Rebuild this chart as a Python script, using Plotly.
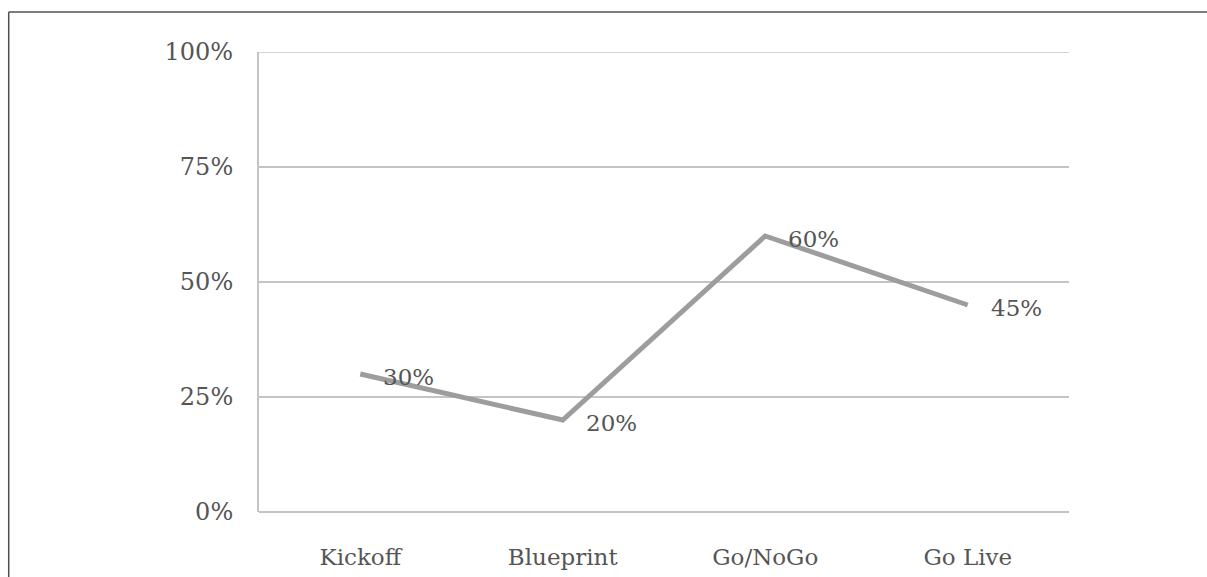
import plotly.graph_objects as go

# Project phases and completion share at each milestone
phases = ["Kickoff", "Blueprint", "Go/NoGo", "Go Live"]
completion = [30, 20, 60, 45]
y_ticks = [0, 25, 50, 75, 100]
y_tick_labels = ["0%", "25%", "50%", "75%", "100%"]

FONT = "DejaVu Serif"
TEXT_COLOR = "#555555"
GRID_COLOR = "#c4c4c4"
LINE_COLOR = "#9d9d9f"

fig = go.Figure()

fig.add_trace(go.Scatter(
    x=phases,
    y=completion,
    mode="lines",
    line=dict(color=LINE_COLOR, width=5),
    hoverinfo="skip",
    showlegend=False,
))

# Value labels sit just to the right of each point
for phase, value in zip(phases, completion):
    fig.add_annotation(
        x=phase, y=value, text=f"{value}%",
        showarrow=False, xanchor="left", yanchor="middle",
        xshift=21, yshift=-3,
        font=dict(family=FONT, size=23, color=TEXT_COLOR),
    )

# Top gridline at 100%
fig.add_shape(type="line", xref="paper", yref="y",
              x0=0, x1=1, y0=100, y1=100,
              line=dict(color=GRID_COLOR, width=1.5), layer="below")

# Outer frame (top and left edges)
fig.add_shape(type="line", xref="paper", yref="paper",
              x0=-0.309, x1=1.2, y0=1.087, y1=1.087,
              line=dict(color="#505050", width=1.5))
fig.add_shape(type="line", xref="paper", yref="paper",
              x0=-0.309, x1=-0.309, y0=1.087, y1=-0.2,
              line=dict(color="#505050", width=1.5))

fig.update_layout(
    width=1207, height=577,
    margin=dict(l=259, r=138, t=52, b=65),
    paper_bgcolor="white",
    plot_bgcolor="white",
    font=dict(family=FONT, size=23, color=TEXT_COLOR),
    xaxis=dict(
        type="category",
        range=[-0.5, 3.5],
        showgrid=False,
        showline=False,
        zeroline=False,
        ticks="",
        automargin=False,
        ticklabelstandoff=29,
        tickfont=dict(family=FONT, size=23, color=TEXT_COLOR),
    ),
    yaxis=dict(
        range=[0, 100],
        tickvals=y_ticks,
        ticktext=y_tick_labels,
        showgrid=True,
        gridcolor=GRID_COLOR,
        gridwidth=1.5,
        zeroline=True,
        zerolinecolor=GRID_COLOR,
        zerolinewidth=1.5,
        showline=True,
        linecolor=GRID_COLOR,
        linewidth=2,
        ticks="",
        automargin=False,
        ticklabelstandoff=19,
        tickfont=dict(family=FONT, size=24, color=TEXT_COLOR),
    ),
)

fig.write_html("out.html")
